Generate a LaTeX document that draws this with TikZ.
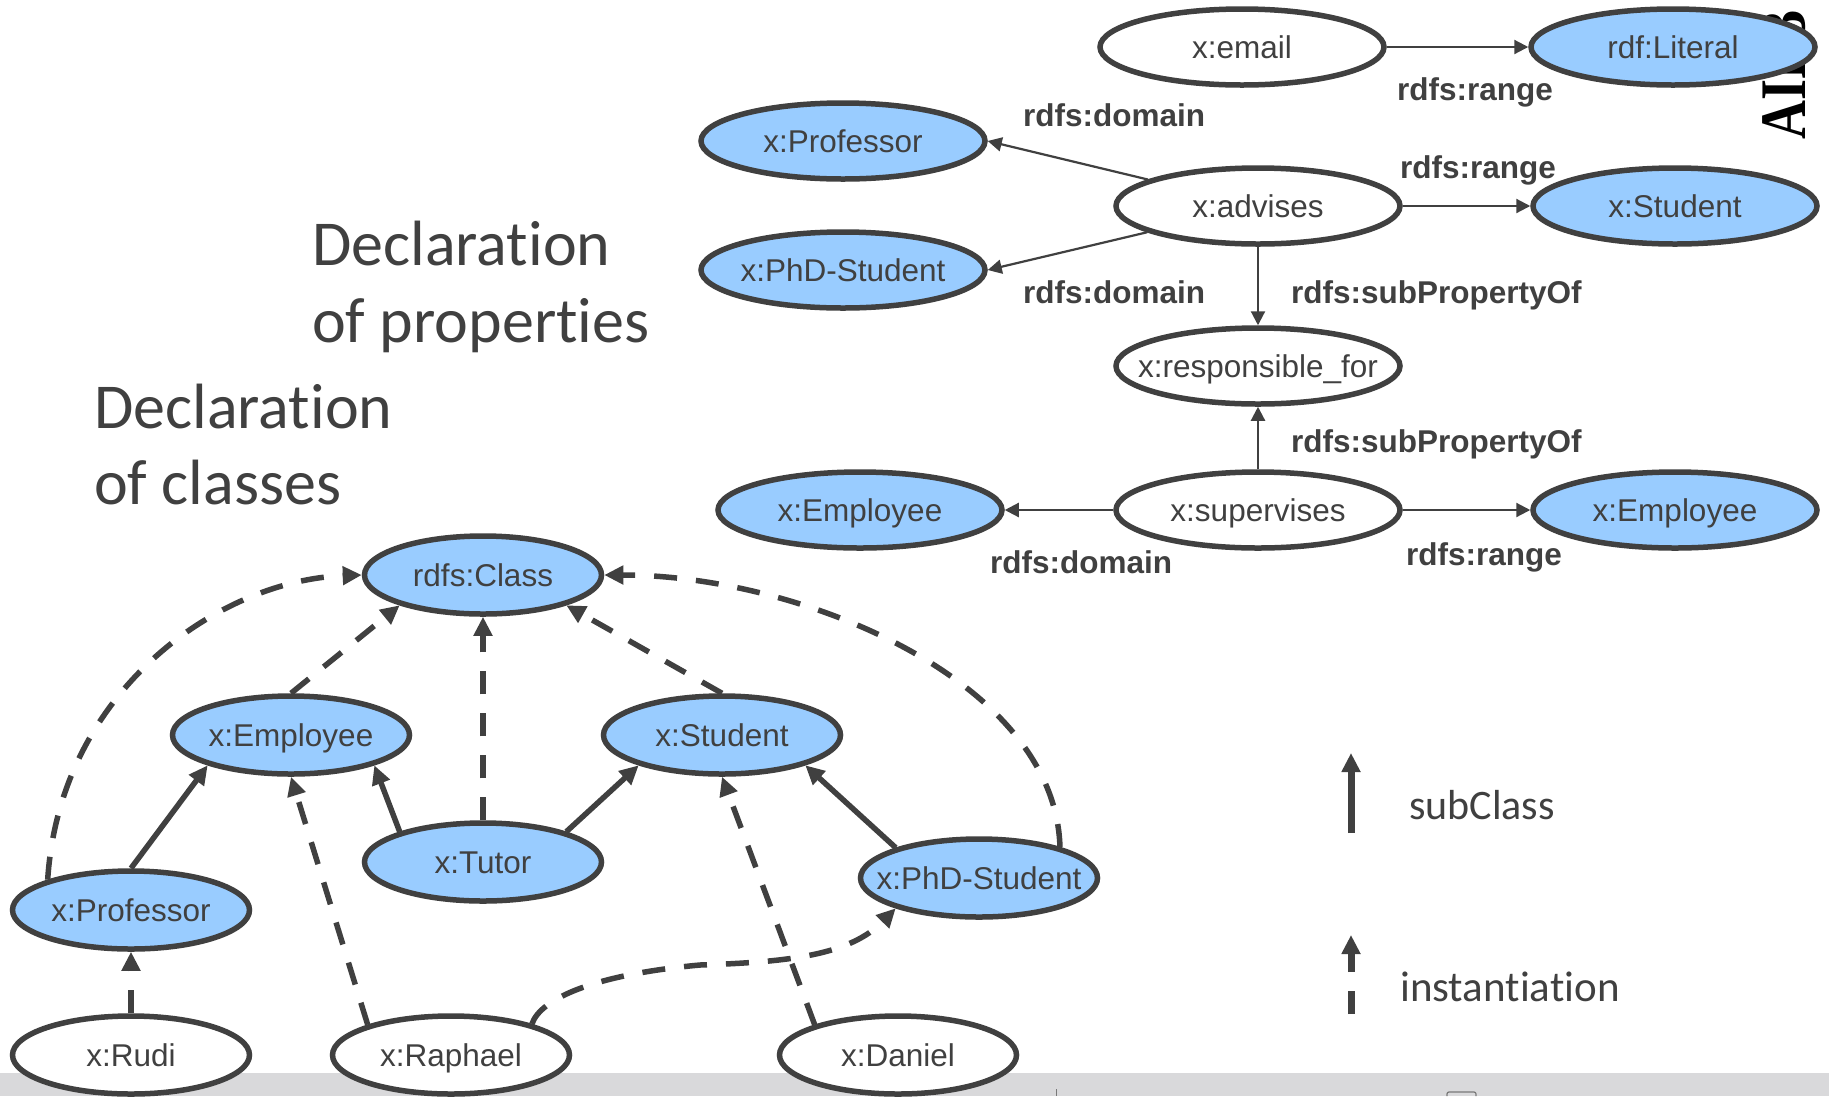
\documentclass[tikz,border=0pt]{standalone}
\usepackage{fontspec}
\setmainfont{Liberation Sans}
\newfontfamily\headfont[Ligatures=NoCommon]{Carlito}
\newfontfamily\stampfont[FakeStretch=0.83]{Liberation Serif}
\usetikzlibrary{shapes.geometric, arrows.meta}
\definecolor{ink}{HTML}{404040}
\definecolor{classblue}{HTML}{99CCFF}
\definecolor{bargrey}{HTML}{D9D9DB}

\begin{document}
\begin{tikzpicture}[x=1pt, y=-1pt,
  term/.style={ellipse, draw=ink, line width=5.5pt, text=ink,
    inner xsep=-90pt, inner ysep=-30pt, text height=23pt, text depth=0pt,
    font=\fontsize{31.5}{36}\selectfont},
  propshape/.style={term, minimum width=284pt, minimum height=76pt},
  clsshape/.style={term, minimum width=237pt, minimum height=78pt},
  classfill/.style={fill=classblue},
  instfill/.style={fill=white},
  rellabel/.style={anchor=base west, inner sep=0pt, text=ink,
    font=\bfseries\fontsize{31.5}{36}\selectfont},
  heading/.style={anchor=base west, inner sep=0pt, text=ink,
    font=\headfont\fontsize{64}{76}\selectfont},
  legendtext/.style={anchor=base west, inner sep=0pt, text=ink,
    font=\headfont\fontsize{43}{50}\selectfont},
  relarrow/.style={draw=ink, line width=2.2pt, -{Triangle[length=14pt,width=14pt]}},
  subarrow/.style={draw=ink, line width=5.5pt, -{Triangle[length=19pt,width=18pt]}},
  instarrow/.style={subarrow, dash pattern=on 23pt off 19pt},
]
\useasboundingbox (0,0) rectangle (1829,1096);
\fill[white] (0,0) rectangle (1829,1096);

% window status bar along the bottom edge
\fill[bargrey] (0,1073) rectangle (1829,1096);
\draw[ink!70, line width=1pt] (1056,1089) -- (1056,1096);
\draw[ink!70, line width=1.2pt, rounded corners=2pt] (1447,1096) -- (1447,1092) -- (1476,1092) -- (1476,1096);

% rotated institute mark at the right edge, partly hidden by the ellipses
\node[rotate=90, anchor=base west, inner sep=0pt, text=black,
  font=\stampfont\bfseries\fontsize{65}{70}\selectfont] (mark) at (1805,140) {AIFB};

% headings
\node[heading] (hp1) at (312,265) {Declaration};
\node[heading] (hp2) at (312,342) {of properties};
\node[heading] (hc1) at (94,428) {Declaration};
\node[heading] (hc2) at (94,504) {of classes};

% ---------- property declarations ----------
\node[propshape, instfill]  (email) at (1242,47)  {x:email};
\node[propshape, classfill] (lit)   at (1673,47)  {rdf:Literal};
\node[propshape, classfill] (prof1) at (843,141)  {x:Professor};
\node[propshape, instfill]  (adv)   at (1258,206) {x:advises};
\node[propshape, classfill] (stu1)  at (1675,206) {x:Student};
\node[propshape, classfill] (phd1)  at (843,270)  {x:PhD-Student};
\node[propshape, instfill]  (resp)  at (1258,366) {x:responsible\_for};
\node[propshape, classfill] (emp1)  at (860,510)  {x:Employee};
\node[propshape, instfill]  (sup)   at (1258,510) {x:supervises};
\node[propshape, classfill] (emp2)  at (1675,510) {x:Employee};

\draw[relarrow] (email) -- (lit);
\draw[relarrow] (adv) -- (prof1.east);
\draw[relarrow] (adv) -- (phd1.east);
\draw[relarrow] (adv) -- (stu1);
\draw[relarrow] (adv) -- (resp);
\draw[relarrow] (sup) -- (resp);
\draw[relarrow] (sup) -- (emp1);
\draw[relarrow] (sup) -- (emp2);

\node[rellabel] (l1) at (1397,100) {rdfs:range};
\node[rellabel] (l2) at (1023,126) {rdfs:domain};
\node[rellabel] (l3) at (1400,178) {rdfs:range};
\node[rellabel] (l4) at (1023,303) {rdfs:domain};
\node[rellabel] (l5) at (1291,303) {rdfs:subPropertyOf};
\node[rellabel] (l6) at (1291,452) {rdfs:subPropertyOf};
\node[rellabel] (l7) at (1406,565) {rdfs:range};
\node[rellabel] (l8) at (990,573)  {rdfs:domain};

% ---------- class declarations ----------
\node[clsshape, classfill] (cls)   at (483,575)  {rdfs:Class};
\node[clsshape, classfill] (emp)   at (291,735)  {x:Employee};
\node[clsshape, classfill] (stu)   at (722,735)  {x:Student};
\node[clsshape, classfill] (tutor) at (483,862)  {x:Tutor};
\node[clsshape, classfill] (phd)   at (979,878)  {x:PhD-Student};
\node[clsshape, classfill] (prof)  at (131,910)  {x:Professor};
\node[clsshape, instfill]  (rudi)  at (131,1055) {x:Rudi};
\node[clsshape, instfill]  (raph)  at (451,1055) {x:Raphael};
\node[clsshape, instfill]  (dan)   at (898,1055) {x:Daniel};

% subclass relations
\draw[subarrow] (prof.north) -- (emp.200);
\draw[subarrow] (tutor.160) -- (emp.-20);
\draw[subarrow] (tutor.20) -- (stu.200);
\draw[subarrow] (phd.160) -- (stu.-20);

% instantiation relations
\draw[instarrow] (emp.north) -- (cls.200);
\draw[instarrow] (tutor.north) -- (cls.south);
\draw[instarrow] (stu.north) -- (cls.-20);
\draw[instarrow] (prof.160) .. controls (60,690) and (220,580) .. (cls.west);
\draw[instarrow] (phd.21) .. controls (1055,680) and (800,575) .. (cls.east);
\draw[instarrow] (rudi.north) -- (prof.south);
\draw[instarrow] (raph.160) -- (emp.south);
\draw[instarrow] (raph.21) .. controls (540,1000) and (590,975) .. (700,965)
  .. controls (790,962) and (850,955) .. (phd.200);
\draw[instarrow] (dan.160) -- (stu.south);

% legend
\coordinate (ls0) at (1351,833);
\coordinate (ls1) at (1351,753);
\coordinate (li0) at (1351,1014);
\coordinate (li1) at (1351,935);
\draw[subarrow, line width=7pt] (ls0) -- (ls1);
\draw[instarrow, line width=7pt] (li0) -- (li1);
\node[legendtext, font=\headfont\fontsize{42}{50}\selectfont] (lgs) at (1409,819) {subClass};
\node[legendtext] (lgi) at (1400,1001) {instantiation};
\end{tikzpicture}
\end{document}
